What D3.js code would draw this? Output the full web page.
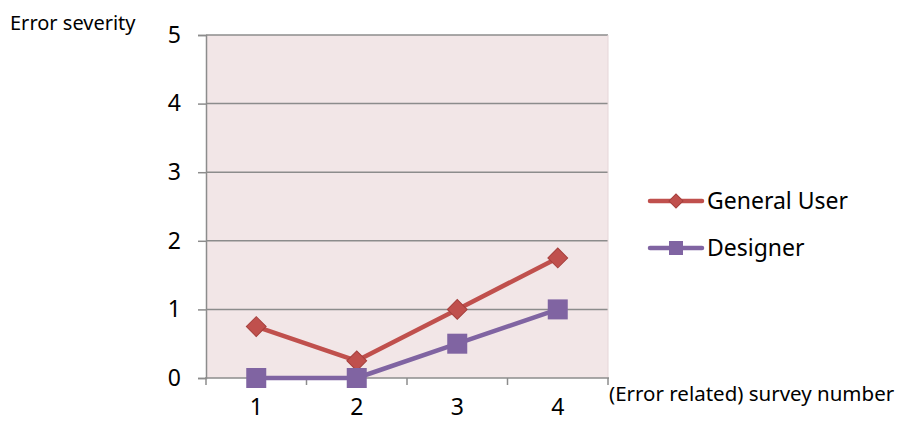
<!DOCTYPE html>
<html><head><meta charset="utf-8">
<script src="https://cdn.jsdelivr.net/npm/d3@7"></script>
<style>body{margin:0;background:#fff}svg{display:block;font-family:"Noto Sans","Open Sans",sans-serif}</style>
</head><body><svg id="c" width="900" height="423"></svg>
<script>
const categories = ["1","2","3","4"];
const generalUser = [0.75, 0.25, 1, 1.75];
const designer = [0, 0, 0.5, 1];
const yTicks = [0,1,2,3,4,5];
const seriesNames = ["General User","Designer"];

const svg = d3.select("#c");
const L=206, R=608, T=35, B=378;
const x = d3.scaleBand().domain(categories).range([L,R]);
const y = d3.scaleLinear().domain([0,5]).range([B,T]);

svg.append("rect").attr("x",L).attr("y",T).attr("width",R-L).attr("height",B-T).attr("fill","#f2e6e7");
const gridG = svg.append("g");
yTicks.filter(d=>d>0).forEach(t=>{
  gridG.append("line").attr("x1",L).attr("x2",R).attr("y1",y(t)).attr("y2",y(t)).attr("stroke","#8c8c8c").attr("stroke-width",1.5);
});
svg.append("line").attr("x1",R).attr("x2",R).attr("y1",T).attr("y2",B).attr("stroke","#e6d6d8").attr("stroke-width",1);

const yAxis = d3.axisLeft(y).tickValues(yTicks).tickSize(8).tickPadding(17).tickFormat(d3.format("d"));
const yg = svg.append("g").attr("transform",`translate(${L},0)`).call(yAxis);
yg.select(".domain").attr("stroke","#8c8c8c").attr("stroke-width",1.5);
yg.selectAll(".tick line").attr("stroke","#8c8c8c").attr("stroke-width",1.5);
yg.selectAll("text").attr("font-size",23).attr("fill","#000").attr("font-family","Noto Sans");

const xg = svg.append("g").attr("transform",`translate(0,${B})`).call(d3.axisBottom(x).tickSize(0).tickPadding(21));
xg.select(".domain").remove();
xg.selectAll("text").attr("font-size",23).attr("fill","#000").attr("font-family","Noto Sans");
svg.append("line").attr("x1",L-1).attr("x2",R+1).attr("y1",B).attr("y2",B).attr("stroke","#8c8c8c").attr("stroke-width",1.5);
const bounds = categories.map(c=>x(c)).concat([R]);
bounds.forEach(b=>svg.append("line").attr("x1",b).attr("x2",b).attr("y1",B).attr("y2",B+7).attr("stroke","#8c8c8c").attr("stroke-width",1.5));

const cx = d=>x(d)+x.bandwidth()/2;
const line = d3.line().x((d,i)=>cx(categories[i])).y(d=>y(d));
const colors = ["#c0504d","#8064a2"];
const data = [generalUser, designer];

function drawMarker(g, k, px, py){
  if(k===0){
    g.append("rect").attr("x",-7).attr("y",-7).attr("width",14).attr("height",14)
      .attr("transform",`translate(${px},${py}) rotate(45)`).attr("fill",colors[0]).attr("stroke","#a63f3c").attr("stroke-width",1);
  } else {
    g.append("rect").attr("x",px-10).attr("y",py-10).attr("width",20).attr("height",20).attr("fill",colors[1]);
  }
}

data.forEach((vals,k)=>{
  svg.append("path").attr("d",line(vals)).attr("fill","none").attr("stroke",colors[k]).attr("stroke-width",4.5).attr("stroke-linejoin","round");
});
data.forEach((vals,k)=>{
  const g = svg.append("g");
  vals.forEach((v,i)=>drawMarker(g,k,cx(categories[i]),y(v)));
});

// legend
const legY=[201,248];
seriesNames.forEach((n,k)=>{
  const g = svg.append("g");
  g.append("line").attr("x1",650).attr("x2",702).attr("y1",legY[k]).attr("y2",legY[k]).attr("stroke",colors[k]).attr("stroke-width",4.5).attr("stroke-linecap","round");
  if(k===0){
    g.append("rect").attr("x",-5).attr("y",-5).attr("width",10).attr("height",10).attr("transform",`translate(676,${legY[k]}) rotate(45)`).attr("fill",colors[0]).attr("stroke","#a63f3c");
  } else {
    g.append("rect").attr("x",669).attr("y",legY[k]-7).attr("width",14).attr("height",14).attr("fill",colors[1]);
  }
  g.append("text").attr("x",707).attr("y",legY[k]+8).attr("font-size",23).text(n);
});

svg.append("text").attr("x",10).attr("y",30).attr("font-size",20).text("Error severity");
svg.append("text").attr("x",609).attr("y",401).attr("font-size",20.5).text("(Error related) survey number");
</script></body></html>
